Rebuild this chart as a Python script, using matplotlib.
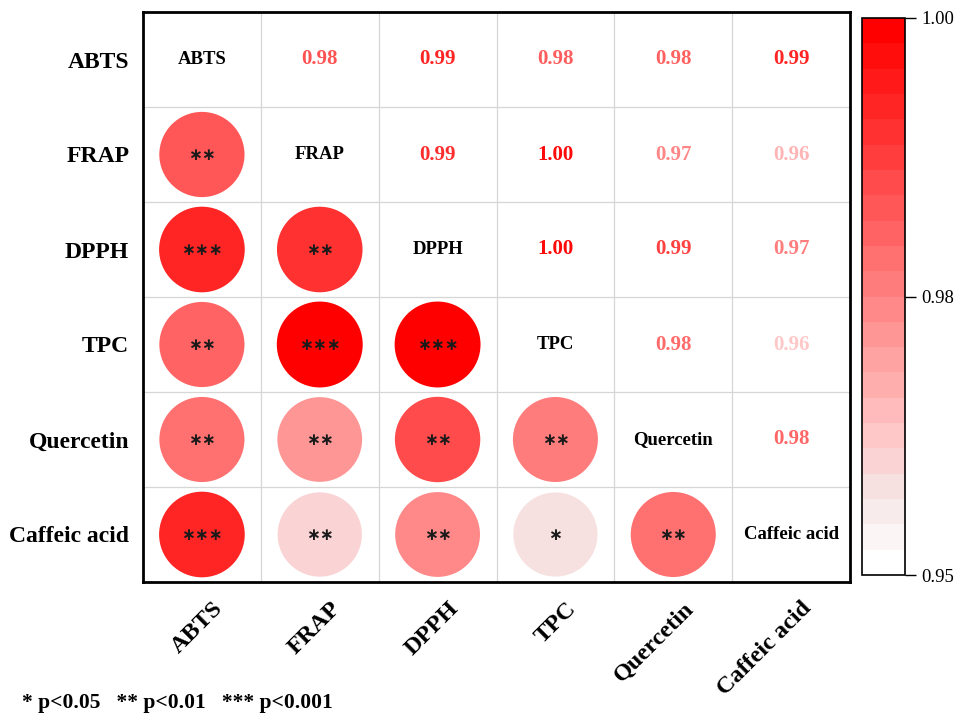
import numpy as np
import matplotlib
matplotlib.use("Agg")
import matplotlib.pyplot as plt
from matplotlib.colors import LinearSegmentedColormap, ListedColormap, Normalize
from matplotlib.transforms import blended_transform_factory, ScaledTranslation
import matplotlib.colorbar as mcolorbar

plt.rcParams['font.family'] = ['Liberation Serif', 'DejaVu Serif']

variables = ["ABTS", "FRAP", "DPPH", "TPC", "Quercetin", "Caffeic acid"]

# lower-triangle correlations (row i, columns 0..i-1)
corr_lower = [
    [],
    [0.982],
    [0.992, 0.990],
    [0.980, 0.998, 0.998],
    [0.979, 0.971, 0.986, 0.977],
    [0.992, 0.961, 0.973, 0.957, 0.978],
]
stars_lower = [
    [],
    ["**"],
    ["***", "**"],
    ["**", "***", "***"],
    ["**", "**", "**", "**"],
    ["***", "**", "**", "*", "**"],
]
cbar_ticks = [0.95, 0.975, 1.00]
cbar_ticklabels = ["0.95", "0.98", "1.00"]
legend_text = "* p<0.05   ** p<0.01   *** p<0.001"

vmin, vmax = 0.95, 1.00
n = len(variables)

base = LinearSegmentedColormap.from_list(
    "wr", [(0.0, "#FFFFFF"), (0.12, "#F5E6E6"), (0.25, "#FFC4C4"), (1.0, "#FF0000")])
cmap = ListedColormap(base(np.linspace(0, 1, 22)))
norm = Normalize(vmin, vmax)
text_cmap = LinearSegmentedColormap.from_list("wr2", ["#FFFFFF", "#FF0000"])
text_norm = Normalize(0.945, 1.0)

W, H = 960, 723
fig = plt.figure(figsize=(W / 100, H / 100), dpi=100)
L, R, T, B = 143, 850, 12, 582
ax = fig.add_axes([L / W, 1 - B / H, (R - L) / W, (B - T) / H])
ax.set_xlim(0, n)
ax.set_ylim(n, 0)

for k in range(1, n):
    ax.axhline(k, color="#D6D6D6", lw=0.9, zorder=0)
    ax.axvline(k, color="#D6D6D6", lw=0.9, zorder=0)

xs, ys, vals, st = [], [], [], []
for i in range(n):
    for j, v in enumerate(corr_lower[i]):
        xs.append(j + 0.5)
        ys.append(i + 0.5)
        vals.append(v)
        st.append(stars_lower[i][j])
vals = np.array(vals)
s0 = (86 * 72 / 100) ** 2
ax.scatter(xs, ys, s=s0 * vals, c=vals, cmap=cmap, norm=norm, edgecolors="none", zorder=2)
for x, y, s in zip(xs, ys, st):
    ax.text(x, y + 0.01, s.replace("*", "\u2217"), ha="center", va="center", fontsize=12,
            color="#1A1A1A", family=["DejaVu Sans"], fontweight="bold", zorder=3)

# upper triangle numbers
for i in range(n):
    for j, v in enumerate(corr_lower[i]):
        ax.text(i + 0.5, j + 0.5, f"{v:.2f}", ha="center", va="center", fontsize=15,
                fontweight="bold", color=text_cmap(text_norm(v)), zorder=3)

# diagonal labels
for k, name in enumerate(variables):
    ax.text(k + 0.5, k + 0.5, name, ha="center", va="center", fontsize=13.5,
            fontweight="bold", color="black", zorder=3)

ax.set_xticks([])
ax.set_yticks([k + 0.5 for k in range(n)])
ax.set_yticklabels(variables, fontsize=17, fontweight="bold")
ax.tick_params(axis="y", length=0, pad=10)
for sp in ax.spines.values():
    sp.set_linewidth(2)
    sp.set_color("black")

trans = blended_transform_factory(ax.transData, ax.transAxes) + \
    ScaledTranslation(10 / 100, -16 / 100, fig.dpi_scale_trans)
for k, name in enumerate(variables):
    ax.text(k + 0.5, 0, name, transform=trans, rotation=45, ha="right", va="top",
            rotation_mode="anchor", fontsize=17.5, fontweight="bold")

# colorbar
cax = fig.add_axes([862 / W, 1 - 575 / H, 43 / W, (575 - 18) / H])
cb = mcolorbar.ColorbarBase(cax, cmap=cmap, norm=norm, orientation="vertical")
cb.set_ticks(cbar_ticks)
cb.set_ticklabels(cbar_ticklabels)
cb.outline.set_linewidth(1.2)
cax.tick_params(length=8, width=1, labelsize=13.5, pad=4)

fig.text(22 / W, 1 - 703 / H, legend_text, ha="left", va="center", fontsize=15.5,
         fontweight="bold")

fig.savefig("out.png", dpi=100)
